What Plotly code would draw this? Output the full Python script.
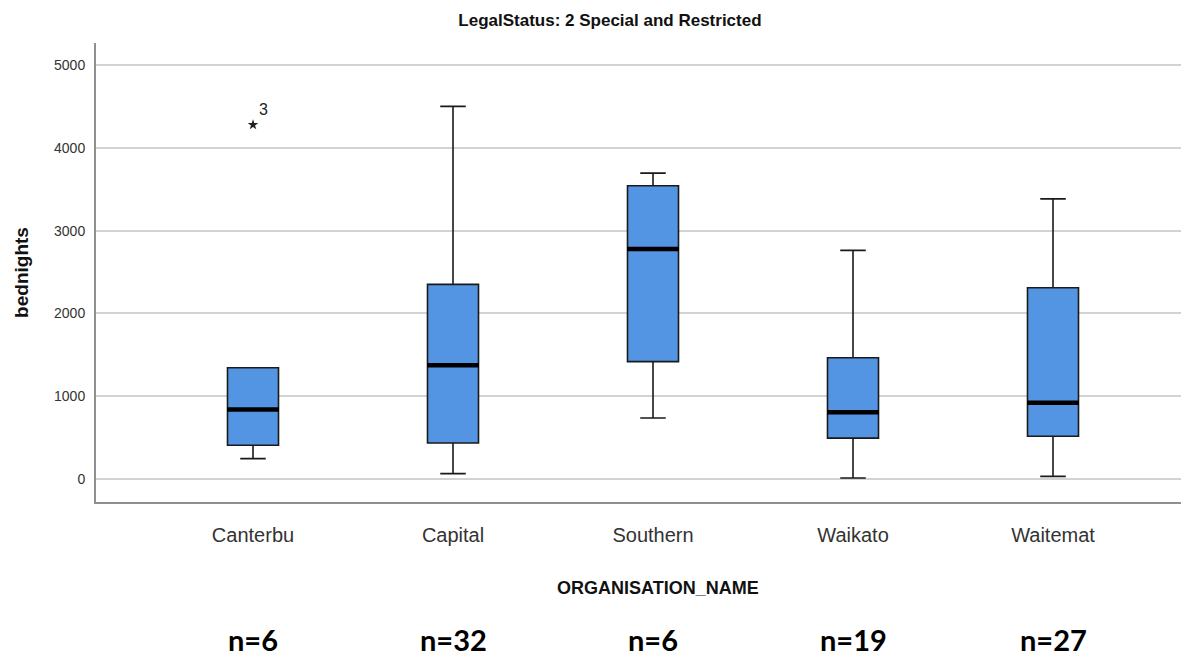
import plotly.graph_objects as go

# box statistics
orgs = ["Canterbu", "Capital", "Southern", "Waikato", "Waitemat"]
lower = [246, 65, 737, 12, 32]
q1 = [407, 435, 1417, 493, 517]
median = [839, 1375, 2778, 807, 920]
q3 = [1343, 2351, 3541, 1465, 2309]
upper = [1343, 4500, 3694, 2761, 3383]
counts = [6, 32, 6, 19, 27]

outlier_org = ["Canterbu"]
outlier_val = [4278]
outlier_id = ["3"]

BOX_FILL = "#5495e3"
GRID = "#d3d3d3"
AXIS = "#8f8f8f"
SANS = "Liberation Sans, Arial"

fig = go.Figure()

fig.add_trace(go.Box(
    x=orgs, q1=q1, median=median, q3=q3,
    lowerfence=lower, upperfence=upper,
    fillcolor=BOX_FILL,
    line=dict(color="#1a1a1a", width=1.6),
    whiskerwidth=0.5,
    width=0.255,
    boxpoints=False,
    showlegend=False,
))

# thick median bars
fig.add_trace(go.Scatter(
    x=orgs, y=median, mode="markers",
    marker=dict(symbol="line-ew", size=37, line=dict(color="black", width=4.5)),
    showlegend=False, hoverinfo="skip",
))

# extreme value
fig.add_trace(go.Scatter(
    x=outlier_org, y=outlier_val, mode="markers+text",
    marker=dict(symbol="star", size=8, color="#222222"),
    text=outlier_id, textposition="top right",
    textfont=dict(family=SANS, size=16, color="#222222"),
    showlegend=False,
))

annotations = [
    dict(text="ORGANISATION_NAME", xref="paper", yref="paper", x=0.514, y=-0.187,
         yanchor="middle", showarrow=False,
         font=dict(family=SANS, size=18, color="#111111", weight="bold")),
]
for org, n in zip(orgs, counts):
    annotations.append(dict(
        text=f"n={n}", x=org, xref="x", yref="paper", y=-0.30, yanchor="middle",
        showarrow=False, font=dict(family="Lato, Open Sans, sans-serif", size=29, color="black", weight="bold"),
    ))

fig.update_layout(
    width=1181, height=650,
    margin=dict(l=88, r=0, t=35, b=156),
    paper_bgcolor="white",
    plot_bgcolor="white",
    title=dict(
        text="LegalStatus: 2 Special and Restricted",
        x=0.5097, xanchor="center", y=0.9815, yanchor="middle",
        font=dict(family=SANS, size=17, color="#111111", weight="bold"),
    ),
    annotations=annotations,
)

fig.update_xaxes(
    range=[-0.785, 4.68],
    showline=True, linecolor=AXIS, linewidth=2,
    showgrid=False, ticks="", ticklabelstandoff=14,
    tickfont=dict(family=SANS, size=20, color="#333333"),
)
fig.update_yaxes(
    range=[-278, 5266],
    tickvals=[0, 1000, 2000, 3000, 4000, 5000],
    showline=True, linecolor=AXIS, linewidth=2,
    showgrid=True, gridcolor=GRID, gridwidth=2,
    zeroline=False, ticks="", ticklabelstandoff=6,
    tickfont=dict(family=SANS, size=14, color="#333333"),
    title=dict(text="bednights", standoff=20,
               font=dict(family=SANS, size=19, color="#111111", weight="bold")),
)

fig.write_html("out.html")
